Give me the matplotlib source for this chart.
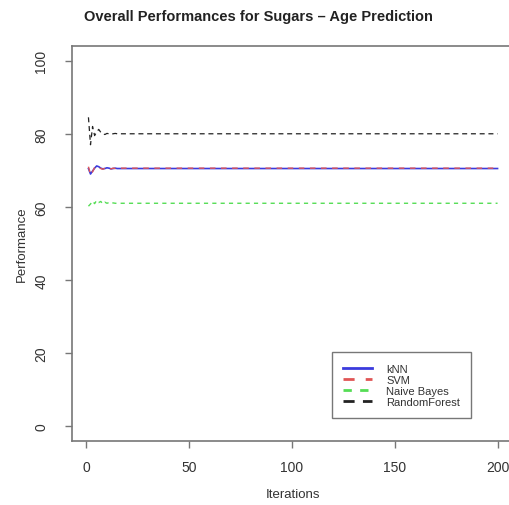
import numpy as np
import matplotlib.pyplot as plt

plt.rcParams['font.family'] = ['Liberation Sans', 'DejaVu Sans']

# iteration numbers and performance values
iterations = list(range(1, 201))

knn_start = [70.5, 69.0, 69.8, 70.6, 71.2, 71.0, 70.6, 70.4, 70.5, 70.7, 70.6, 70.4, 70.5, 70.6, 70.5]
svm_start = [71.0, 68.8, 69.6, 70.8, 71.0, 70.8, 70.5, 70.3, 70.6, 70.7, 70.5, 70.4, 70.6, 70.5, 70.5]
nb_start = [60.2, 60.8, 61.6, 60.9, 61.8, 61.2, 61.5, 60.8, 61.3, 61.0, 61.2, 60.9, 61.1, 61.0, 61.0]
rf_start = [84.5, 77.0, 82.0, 79.5, 80.5, 81.2, 80.4, 80.0, 79.8, 80.1, 80.0, 79.9, 80.0, 80.1, 80.0]

knn_tail = [70.5] * 185
svm_tail = [70.6] * 185
nb_tail = [61.0] * 185
rf_tail = [80.0] * 185

knn = knn_start + knn_tail
svm = svm_start + svm_tail
naive_bayes = nb_start + nb_tail
random_forest = rf_start + rf_tail

fig = plt.figure(figsize=(5.09, 5.06), dpi=100)
# R-style plot region, right edge cropped off the image
ax = fig.add_axes([72 / 509, 1 - 442 / 506, (514 - 72) / 509, (442 - 47) / 506])

ax.plot(iterations, knn, color='#3b3bdd', linestyle='-', linewidth=1.2, label='kNN')
ax.plot(iterations, svm, color='#e05555', linestyle=(0, (4, 4)), linewidth=1.0, label='SVM')
ax.plot(iterations, naive_bayes, color='#55dd55', linestyle=(0, (3, 3)), linewidth=1.0, label='Naive Bayes')
ax.plot(iterations, random_forest, color='#222222', linestyle=(0, (4, 3)), linewidth=0.9, label='RandomForest')

ax.set_xlim(-7, 208)
ax.set_ylim(-4, 104)
ax.set_xticks([0, 50, 100, 150, 200])
ax.set_yticks([0, 20, 40, 60, 80, 100])
ax.set_yticklabels(['0', '20', '40', '60', '80', '100'], rotation=90, va='center')

for s in ax.spines.values():
    s.set_color('#777777')
    s.set_linewidth(1.2)
ax.tick_params(direction='out', length=5, width=1.0, color='#777777',
               labelsize=10, labelcolor='#333333')
ax.tick_params(axis='x', pad=9)
ax.tick_params(axis='y', pad=12)

ax.set_xlabel('Iterations', fontsize=9.5, color='#333333', labelpad=10)
ax.set_ylabel('Performance', fontsize=9.5, color='#333333', labelpad=5)
fig.text(258 / 509, 1 - 17 / 506, 'Overall Performances for Sugars \u2013 Age Prediction',
         ha='center', va='center', fontsize=10.5, fontweight='bold', color='#222222')

leg = ax.legend(loc='lower left', bbox_to_anchor=((332 - 72) / 442, (442 - 419) / 395),
                frameon=True, fancybox=False, fontsize=8, handlelength=2.6,
                borderpad=1.0, labelspacing=0.1, handletextpad=1.3, borderaxespad=0)
leg.get_frame().set_edgecolor('#555555')
leg.get_frame().set_linewidth(1.0)
for line in leg.get_lines():
    line.set_linewidth(2.0)
for t in leg.get_texts():
    t.set_color('#333333')

fig.savefig('out.png', dpi=100)
